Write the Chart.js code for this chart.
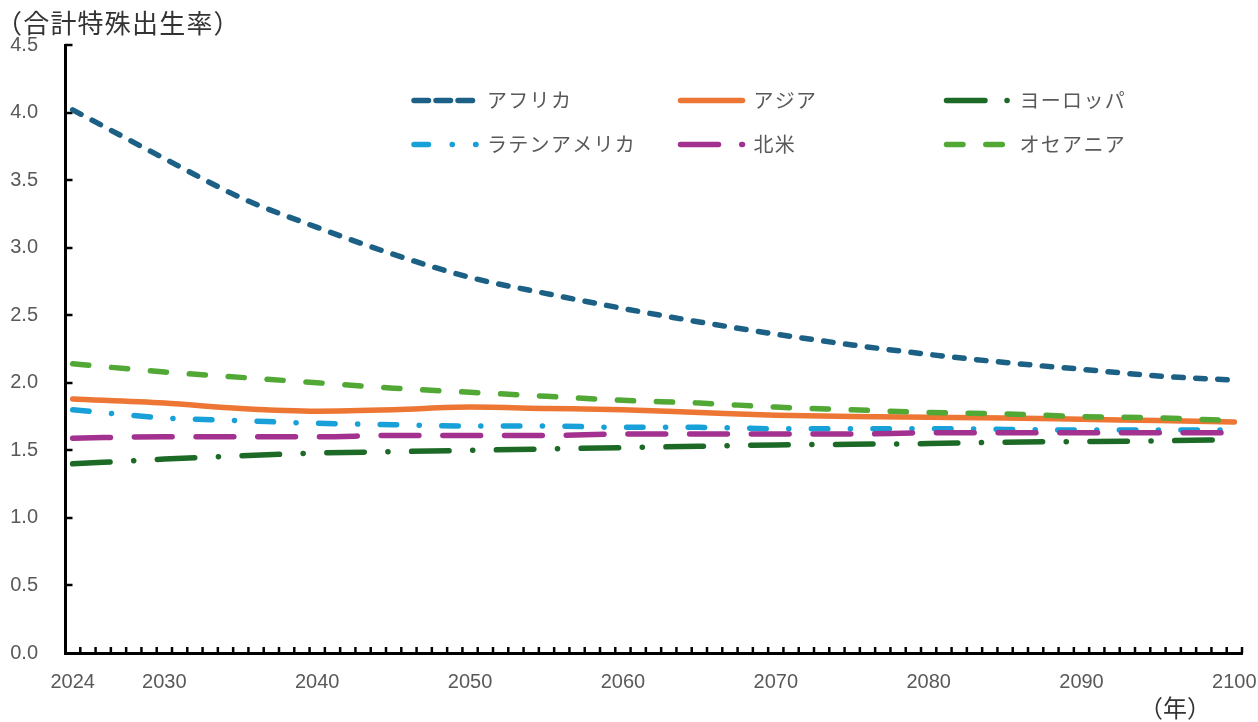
<!DOCTYPE html>
<html lang="ja">
<head>
  <meta charset="UTF-8">
  <title>地域別 合計特殊出生率の推移</title>
  <script src="https://cdn.jsdelivr.net/npm/chart.js"></script>
  <style>
    html, body { margin: 0; padding: 0; background: #fff; }
    canvas { display: block; }
  </style>
</head>
<body>
  <canvas id="tfrChart" width="1258" height="722"></canvas>

  <script>
    // 予測値（5年ごと）
    const years = [2024, 2030, 2035, 2040, 2045, 2050, 2055, 2060, 2065, 2070, 2075, 2080, 2085, 2090, 2095, 2100];
    const africa   = [4.02, 3.66, 3.37, 3.15, 2.95, 2.78, 2.66, 2.55, 2.45, 2.36, 2.28, 2.21, 2.15, 2.10, 2.05, 2.02];
    const asia     = [1.88, 1.85, 1.81, 1.79, 1.80, 1.82, 1.81, 1.80, 1.78, 1.76, 1.75, 1.745, 1.74, 1.73, 1.72, 1.71];
    const europe   = [1.40, 1.435, 1.46, 1.48, 1.49, 1.50, 1.51, 1.52, 1.53, 1.54, 1.545, 1.55, 1.56, 1.565, 1.57, 1.58];
    const latinAm  = [1.80, 1.74, 1.72, 1.70, 1.69, 1.68, 1.68, 1.67, 1.67, 1.66, 1.66, 1.66, 1.655, 1.65, 1.65, 1.65];
    const northAm  = [1.59, 1.60, 1.60, 1.60, 1.61, 1.61, 1.61, 1.62, 1.62, 1.62, 1.62, 1.63, 1.63, 1.63, 1.63, 1.63];
    const oceania  = [2.14, 2.08, 2.04, 2.00, 1.96, 1.93, 1.90, 1.87, 1.85, 1.82, 1.80, 1.78, 1.77, 1.75, 1.74, 1.72];

    const regionNames = ['アフリカ', 'アジア', 'ヨーロッパ', 'ラテンアメリカ', '北米', 'オセアニア'];
    const regionValues = [africa, asia, europe, latinAm, northAm, oceania];

    // x軸に表示する年
    const labelYears = [2024, 2030, 2040, 2050, 2060, 2070, 2080, 2090, 2100];

    // x軸のカテゴリ（1年刻み）
    const axisYears = [];
    for (let y = 2024; y <= 2100; y++) axisYears.push(String(y));

    const LINE_W = 5.5;
    const styles = [
      { color: '#1c6185', dash: [9.5, 12.5],             legendDash: [14.5, 7.5] },
      { color: '#ed7634', dash: [],                      legendDash: [] },
      { color: '#1d6a27', dash: [37.5, 23.6, 0.1, 23.6], legendDash: [38.5, 22, 0.1, 24] },
      { color: '#18a0d8', dash: [16.5, 22.5, 0.1, 22.5], legendDash: [14.5, 23.7, 0.1, 23.3] },
      { color: '#a2318f', dash: [37.8, 23.9],            legendDash: [38, 23.2] },
      { color: '#52a834', dash: [16.2, 22.8],            legendDash: [16.5, 22.8] },
    ];

    // 凡例の配置（3列×2行）
    const legendCols = [414, 680.5, 946.5];
    const legendRows = [100.5, 144.5];
    const LEGEND_LEN = 62;

    const textGray = '#595959';
    const tickFont = { family: '"Liberation Sans", Arial, sans-serif', size: 20 };

    const datasets = regionNames.map((name, i) => ({
      label: name,
      data: years.map((yr, k) => ({ x: String(yr), y: regionValues[i][k] })),
      borderColor: styles[i].color,
      backgroundColor: styles[i].color,
      borderWidth: LINE_W,
      borderDash: styles[i].dash,
      borderCapStyle: 'round',
      borderJoinStyle: 'round',
      pointRadius: 0,
      pointHoverRadius: 0,
      cubicInterpolationMode: 'monotone',
      fill: false,
      order: regionNames.length - i,   // 後の系列を上に描く
    }));

    // 目盛り線・タイトル・凡例を描くプラグイン
    const decorations = {
      id: 'decorations',
      beforeDatasetsDraw(chart) {
        const { ctx, scales: { x, y }, chartArea } = chart;
        ctx.save();
        ctx.strokeStyle = '#000';
        ctx.lineWidth = 2.5;
        ctx.lineCap = 'butt';

        // y軸：内向きの目盛り
        for (let v = 0.5; v <= 4.5 + 1e-9; v += 0.5) {
          const py = Math.round(y.getPixelForValue(v));
          ctx.beginPath();
          ctx.moveTo(chartArea.left, py);
          ctx.lineTo(chartArea.left + 7.5, py);
          ctx.stroke();
        }

        // x軸：年ごとの区切りに内向きの目盛り
        const step = x.getPixelForValue(1) - x.getPixelForValue(0);
        for (let i = 1; i <= axisYears.length; i++) {
          const px = x.getPixelForValue(i) - step / 2;
          ctx.beginPath();
          ctx.moveTo(px, chartArea.bottom);
          ctx.lineTo(px, chartArea.bottom - 6);
          ctx.stroke();
        }
        ctx.restore();
      },
      afterDraw(chart) {
        const { ctx } = chart;
        ctx.save();

        // 軸タイトル
        ctx.fillStyle = '#333';
        ctx.textBaseline = 'middle';
        ctx.textAlign = 'left';
        ctx.font = '26px "Noto Sans CJK JP"';
        ctx.letterSpacing = '1.2px';
        ctx.fillText('（合計特殊出生率）', -4, 23);
        ctx.font = '24px "Noto Sans CJK JP"';
        ctx.letterSpacing = '0px';
        ctx.fillText('（年）', 1139, 708);

        // 凡例
        ctx.font = '20px "Noto Sans CJK JP"';
        ctx.letterSpacing = '1.3px';
        regionNames.forEach((name, i) => {
          const cx = legendCols[i % 3];
          const cy = legendRows[Math.floor(i / 3)];
          ctx.strokeStyle = styles[i].color;
          ctx.lineWidth = LINE_W;
          ctx.lineCap = 'round';
          ctx.setLineDash(styles[i].legendDash);
          ctx.beginPath();
          ctx.moveTo(cx, cy);
          ctx.lineTo(cx + LEGEND_LEN, cy);
          ctx.stroke();
          ctx.setLineDash([]);
          ctx.fillStyle = textGray;
          ctx.fillText(name, cx + 73, cy - 0.5);
        });
        ctx.restore();
      },
    };

    new Chart(document.getElementById('tfrChart'), {
      type: 'line',
      data: { labels: axisYears, datasets },
      options: {
        responsive: false,
        animation: false,
        layout: { padding: { top: 45, right: 16, left: 0, bottom: 0 } },
        plugins: {
          legend: { display: false },
          tooltip: { enabled: false },
        },
        scales: {
          x: {
            type: 'category',
            offset: true,
            grid: { display: false, drawTicks: false },
            border: { display: true, color: '#000', width: 3 },
            ticks: {
              autoSkip: false,
              maxRotation: 0,
              padding: 17,
              color: textGray,
              font: tickFont,
              callback(value) {
                const lab = this.getLabelForValue(value);
                return labelYears.includes(Number(lab)) ? lab : '';
              },
            },
            afterFit(s) {
              s.height = 69;
              s.paddingLeft = 0;
              s.paddingRight = 0;
            },
          },
          y: {
            min: 0,
            max: 4.5,
            grid: { display: false, drawTicks: false },
            border: { display: true, color: '#000', width: 3 },
            ticks: {
              stepSize: 0.5,
              padding: 27,
              color: textGray,
              font: tickFont,
              callback: v => v.toFixed(1),
            },
            afterFit(s) {
              s.width = 65;
              s.paddingTop = 0;
              s.paddingBottom = 0;
            },
          },
        },
      },
      plugins: [decorations],
    });
  </script>
</body>
</html>
